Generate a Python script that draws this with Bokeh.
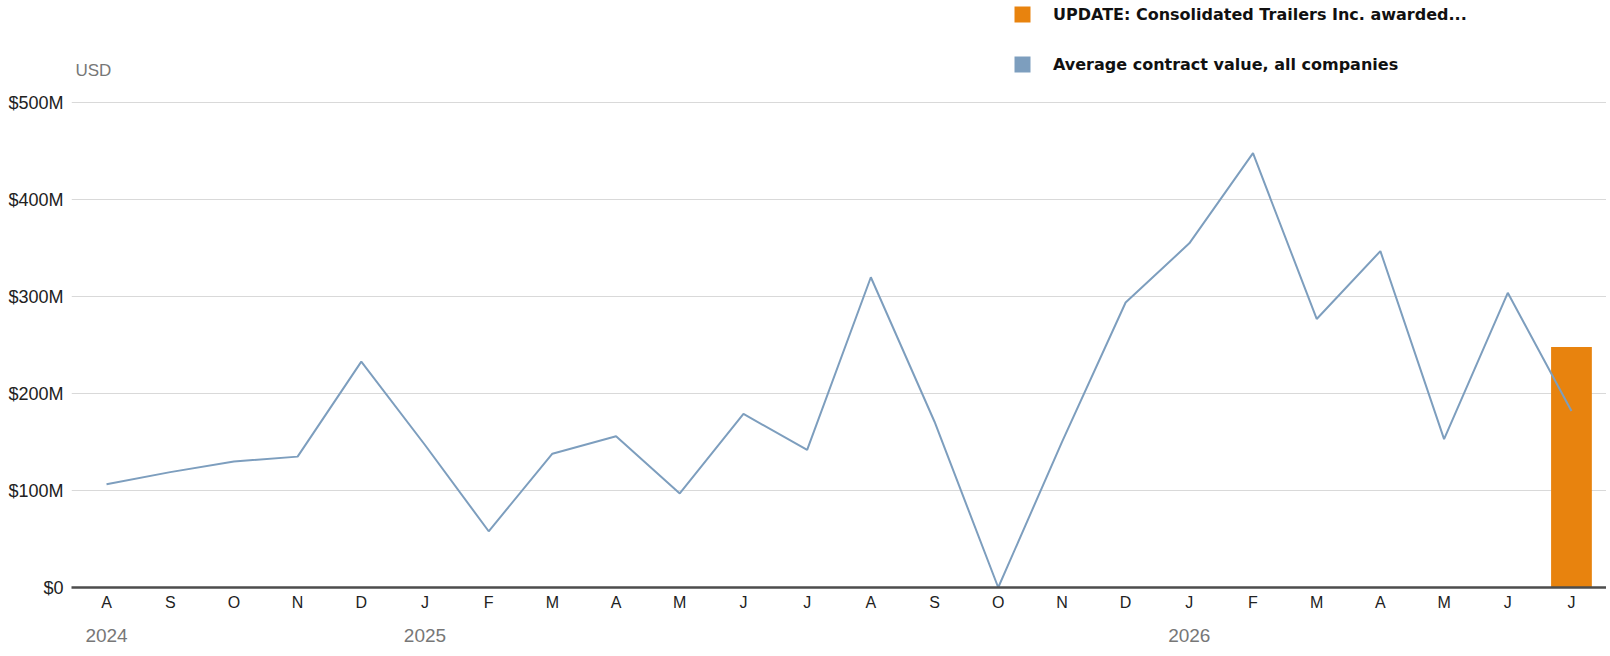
from bokeh.plotting import figure
from bokeh.models import (Range1d, FixedTicker, Legend, LegendItem, Label,
                          LinearAxis, ColumnDataSource)
from bokeh.embed import file_html
from bokeh.resources import INLINE

# ---- data ----
months = ["2024-08", "2024-09", "2024-10", "2024-11", "2024-12",
          "2025-01", "2025-02", "2025-03", "2025-04", "2025-05", "2025-06",
          "2025-07", "2025-08", "2025-09", "2025-10", "2025-11", "2025-12",
          "2026-01", "2026-02", "2026-03", "2026-04", "2026-05", "2026-06",
          "2026-07"]
month_letters = ["A", "S", "O", "N", "D", "J", "F", "M", "A", "M", "J", "J",
                 "A", "S", "O", "N", "D", "J", "F", "M", "A", "M", "J", "J"]
avg_value = [106.5, 119, 130, 135, 233, 147, 58, 138, 156, 97, 179, 142,
             320, 171, 0, 150, 294, 355, 448, 277, 347, 153, 304, 182]  # $M
update_month = ["2026-07"]
update_value = [248]  # $M
y_ticks = [0, 100, 200, 300, 400, 500]
y_tick_labels = ["$0", "$100M", "$200M", "$300M", "$400M", "$500M"]
years = ["2024", "2025", "2026"]
year_months = ["2024-08", "2025-01", "2026-01"]
unit_label = "USD"
legend_labels = ["UPDATE: Consolidated Trailers Inc. awarded...",
                 "Average contract value, all companies"]

LINE = "#7d9ebe"
ORANGE = "#e8830e"
FONT = "Liberation Sans"
LEGEND_FONT = "DejaVu Sans"

month_pos = list(range(len(months)))
pos_of = dict(zip(months, month_pos))

# the frame reaches the top of the canvas so the legend and unit label
# (above the $500M line) are drawn inside it
p = figure(width=1606, height=648,
           x_range=Range1d(-0.55, len(months) - 0.45),
           y_range=Range1d(0, 605.5),
           output_backend="svg", toolbar_location=None,
           min_border_left=71, min_border_right=0,
           min_border_top=0, min_border_bottom=61)

bar = p.vbar(x=[pos_of[m] for m in update_month], top=update_value, width=0.64,
             fill_color=ORANGE, line_color=None)
line = p.line(x=month_pos, y=avg_value, line_color=LINE, line_width=2)
# zero-height stand-in so the line series gets a square legend swatch
swatch = p.vbar(source=ColumnDataSource(dict(x=[month_pos[0]], top=[0])),
                x="x", top="top", bottom=0, width=0.5,
                fill_color=LINE, line_color=None)

# axes
p.outline_line_color = None
p.xgrid.grid_line_color = None
p.ygrid.grid_line_color = "#d9d9d9"
p.ygrid.grid_line_width = 1

xa = p.xaxis[0]
xa.ticker = FixedTicker(ticks=month_pos)
xa.major_label_overrides = dict(zip(month_pos, month_letters))
xa.axis_line_color = "#4d4d4d"
xa.axis_line_width = 2.5
xa.major_tick_line_color = None
xa.minor_tick_line_color = None
xa.major_tick_out = 0
xa.major_tick_in = 0
xa.major_label_standoff = 6
xa.major_label_text_font = FONT
xa.major_label_text_font_size = "16px"
xa.major_label_text_color = "#222222"

year_ticks = [pos_of[m] for m in year_months]
xa2 = LinearAxis(ticker=FixedTicker(ticks=year_ticks),
                 major_label_overrides=dict(zip(year_ticks, years)),
                 axis_line_color=None, major_tick_line_color=None,
                 minor_tick_line_color=None, major_tick_out=0, major_tick_in=0,
                 major_label_standoff=15,
                 major_label_text_font=FONT, major_label_text_font_size="19px",
                 major_label_text_color="#777777")
p.add_layout(xa2, "below")

ya = p.yaxis[0]
ya.ticker = FixedTicker(ticks=y_ticks)
ya.major_label_overrides = dict(zip(y_ticks, y_tick_labels))
ya.axis_line_color = None
ya.major_tick_line_color = None
ya.minor_tick_line_color = None
ya.major_tick_out = 0
ya.major_tick_in = 0
ya.major_label_standoff = 8
ya.major_label_text_font = FONT
ya.major_label_text_font_size = "18px"
ya.major_label_text_color = "#222222"

# unit label
p.add_layout(Label(x=4, y=517, x_units="screen", y_units="screen",
                   text=unit_label, text_font=FONT, text_font_size="17px",
                   text_color="#777777", text_baseline="middle",
                   text_align="left"))

legend = Legend(items=[LegendItem(label=legend_labels[0], renderers=[bar]),
                       LegendItem(label=legend_labels[1], renderers=[swatch])],
                location=(941, 513), orientation="vertical",
                glyph_width=20, glyph_height=20, label_height=20,
                label_standoff=21, spacing=30, padding=0, margin=0,
                border_line_color=None, background_fill_alpha=0,
                label_text_font=LEGEND_FONT, label_text_font_size="16px",
                label_text_font_style="bold", label_text_color="#111111")
p.add_layout(legend)

open("out.html", "w").write(file_html(p, INLINE))
